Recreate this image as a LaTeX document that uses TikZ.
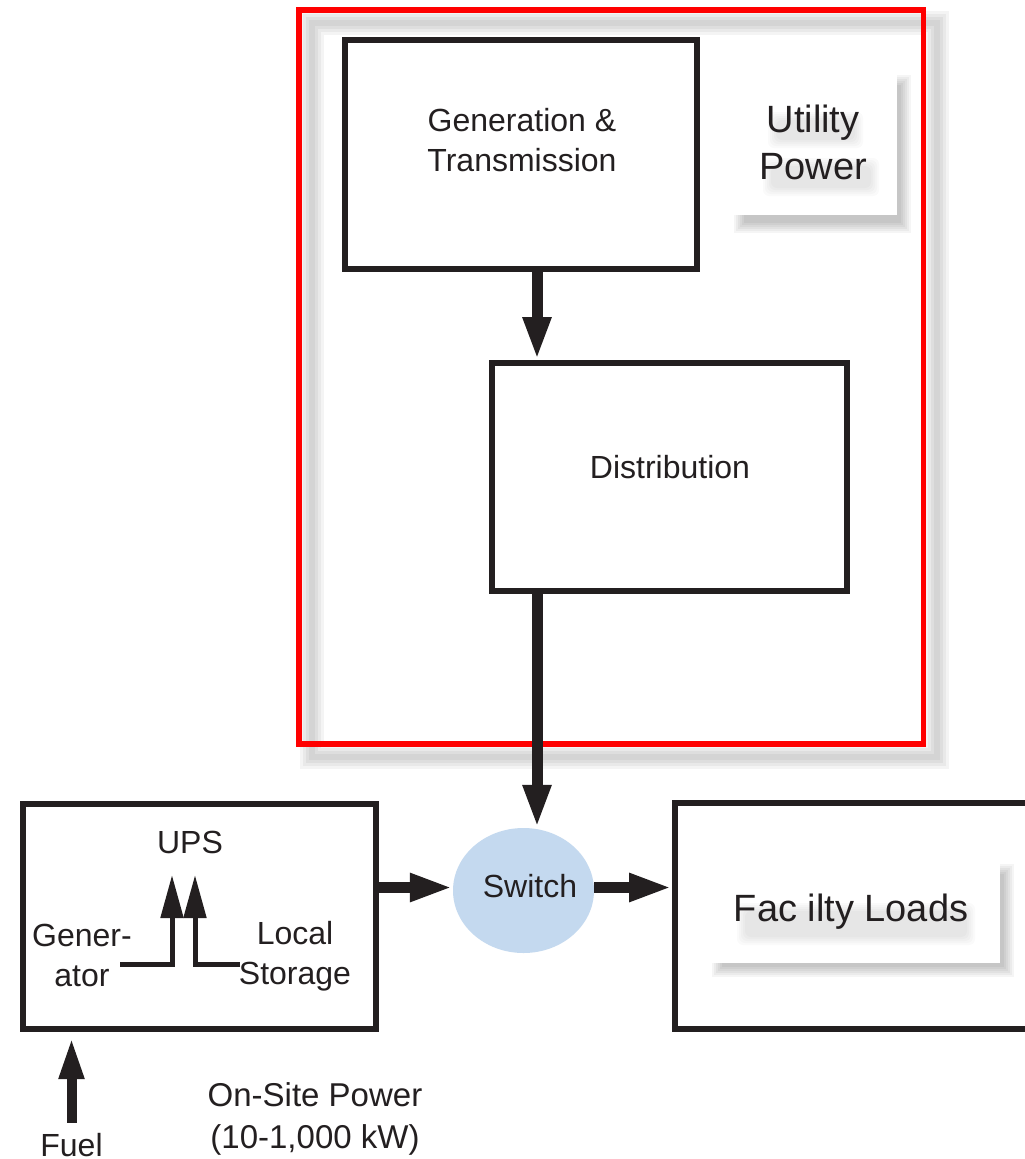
\documentclass[tikz,border=0pt]{standalone}
\usepackage{fontspec}
\setmainfont{Liberation Sans}
\usetikzlibrary{arrows.meta,calc,shapes.geometric}
\definecolor{ink}{HTML}{231F20}
\definecolor{frame}{HTML}{FF0000}
\definecolor{switchblue}{HTML}{C4D9EF}

\begin{document}
\begin{tikzpicture}[x=1pt,y=-1pt,
  box/.style n args={2}{draw=ink,line width=6pt,inner sep=0pt,outer sep=3pt,
    minimum width=#1,minimum height=#2},
  lbl/.style={text=ink,inner sep=0pt,align=center,font=\fontsize{32}{40}\selectfont},
  biglbl/.style={text=ink,inner sep=0pt,align=center,font=\fontsize{38}{47}\selectfont},
  haze/.style={fill=black,opacity=0.02,rounded corners=6pt},
  flow/.style={draw=ink,line width=11pt,-{Triangle[length=43pt,width=26pt]}},
  feed/.style={draw=ink,line width=5pt,-{Triangle[length=43pt,width=22pt]}}]

\useasboundingbox (0,0) rectangle (1025,1159);
\fill[white] (0,0) rectangle (1025,1159);

% soft shadow of the utility frame
\foreach \w in {24,18,12,6}
  \draw[black,opacity=0.045,line width=\w pt] (312,23) rectangle (936.5,757);
\draw[frame,line width=5.5pt] (299,10) rectangle (923.5,744);

% utility-side blocks
\node[box={352}{229}] (gen) at (521,154.5) {};
\node[box={355}{228}] (dist) at (669.5,477) {};
\node[lbl] (genlbl) at (522,140) {Generation \&\\Transmission};
\node[lbl] (distlbl) at (670,467) {Distribution};

% "Utility Power" tag with drop shadow and soft text shadow
\foreach \e in {-4,-2,0,2,4,6}
  \fill[black,opacity=0.04] (740-\e,81-\e) rectangle (905+\e,227+\e);
\fill[white] (732,69) rectangle (897,215);
\foreach \e in {0,2,4,6,8}
  \fill[haze] (768+\e,112+\e) rectangle (863-\e,148-\e)
              (763+\e,158+\e) rectangle (879-\e,196-\e);
\node[biglbl] (util) at (813,142) {Utility\\Power};

% on-site power block
\node[box={353}{225}] (onsite) at (199.5,916.5) {};
\node[lbl] (ups) at (190,842) {UPS};
\node[lbl] (genset) at (82,955) {Gener-\\ator};
\node[lbl] (store) at (295,956) {Local\\Storage};
\coordinate (g0) at (120,964);
\coordinate (gtip) at (172,875);
\coordinate (s0) at (240,964);
\coordinate (stip) at (195,875);
\draw[feed] (g0) -| (gtip);
\draw[feed] (s0) -| (stip);

\node[lbl,anchor=base] (fuel) at (71.5,1156) {Fuel};
\node[lbl,font=\fontsize{33}{42}\selectfont] (onlbl) at (315,1119) {On-Site Power\\(10-1,000 kW)};

% switch
\node[ellipse,fill=switchblue,inner sep=0pt,minimum width=141pt,minimum height=125pt] (sw) at (523.5,890.5) {};
\node[lbl] (swlbl) at (530,886) {Switch};

% facility loads block
\node[box={365}{226}] (fac) at (857.5,916) {};
\foreach \e in {-4,-2,0,2,4,6}
  \fill[black,opacity=0.04] (718-\e,870-\e) rectangle (1008+\e,971+\e);
\fill[white] (710,862) rectangle (1000,963);
\foreach \e in {0,2,4,6,8}
  \fill[haze] (737+\e,903+\e) rectangle (975-\e,945-\e);
\node[biglbl] (faclbl) at (851,912) {Fac ilty Loads};

% power flow
\draw[flow] ([xshift=16pt]gen.south) -- ([xshift=16pt]gen.south |- dist.north);
\draw[flow] ([xshift=-132.5pt]dist.south) -- ([xshift=-132.5pt]dist.south |- sw.north);
\draw[flow] ([yshift=3pt]sw.west -| onsite.east) -- ([yshift=3pt]sw.west);
\draw[flow] ([yshift=3pt]sw.east) -- ([yshift=3pt]sw.east -| fac.west);
\draw[flow,line width=10pt,-{Triangle[length=42pt,width=23pt]}] ([yshift=10pt]fuel.north) -- ([yshift=-5pt]fuel.north |- onsite.south);
\end{tikzpicture}
\end{document}
